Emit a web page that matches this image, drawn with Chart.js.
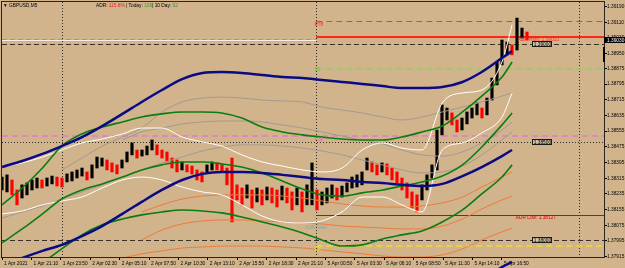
<!DOCTYPE html>
<html>
<head>
<meta charset="utf-8">
<script src="https://cdn.jsdelivr.net/npm/chart.js@4.4.1/dist/chart.umd.min.js"></script>
<style>
  html, body { margin: 0; padding: 0; background: #d2b48c; }
  canvas { display: block; }
</style>
</head>
<body>
<canvas id="chart" width="625" height="268"></canvas>
<script>
// GBPUSD M5, 1-5 Apr 2021. x = M5 bar number from the left edge, y = price
const timeBars = [0, 32, 64, 96, 128, 160, 192, 224, 256, 288, 320, 352, 384, 416, 448, 480, 512, 544];
const timeLabels = ["1 Apr 2021", "1 Apr 21:10", "1 Apr 23:50", "2 Apr 02:30", "2 Apr 05:10", "2 Apr 07:50",
  "2 Apr 10:30", "2 Apr 13:10", "2 Apr 15:50", "2 Apr 18:30", "2 Apr 21:10", "5 Apr 00:50",
  "5 Apr 03:30", "5 Apr 06:10", "5 Apr 08:50", "5 Apr 11:30", "5 Apr 14:10", "5 Apr 16:50"];
const priceTicks = [1.39190, 1.39110, 1.39030, 1.38950, 1.38875, 1.38795, 1.38715, 1.38635, 1.38555,
  1.38475, 1.38395, 1.38315, 1.38235, 1.38155, 1.38075, 1.37995, 1.37915];

// price, one high/low sample every ~27 minutes
const CANDLE_STEP = 5.44;
const candleHigh = [1.38321, 1.38332, 1.38306, 1.38255, 1.38281, 1.38291, 1.38306, 1.38316, 1.38306, 1.38316,
  1.38326, 1.38321, 1.38316, 1.38337, 1.38347, 1.38357, 1.38367, 1.38347, 1.38383, 1.38423,
  1.38418, 1.38408, 1.38393, 1.38383, 1.38408, 1.38449, 1.38495, 1.38459, 1.38459, 1.38479,
  1.38510, 1.38485, 1.38459, 1.38449, 1.38418, 1.38408, 1.38398, 1.38383, 1.38377, 1.38357,
  1.38347, 1.38383, 1.38398, 1.38393, 1.38383, 1.38367, 1.38418, 1.38281, 1.38265, 1.38281,
  1.38255, 1.38265, 1.38255, 1.38270, 1.38265, 1.38255, 1.38275, 1.38265, 1.38245, 1.38265,
  1.38245, 1.38281, 1.38393, 1.38255, 1.38245, 1.38265, 1.38281, 1.38265, 1.38275, 1.38291,
  1.38321, 1.38332, 1.38347, 1.38418, 1.38398, 1.38383, 1.38393, 1.38388, 1.38367, 1.38347,
  1.38316, 1.38291, 1.38245, 1.38230, 1.38281, 1.38332, 1.38383, 1.38561, 1.38689, 1.38673,
  1.38648, 1.38612, 1.38622, 1.38653, 1.38673, 1.38699, 1.38673, 1.38724, 1.38826, 1.38908,
  1.39020, 1.39010, 1.38995, 1.39132, 1.39081, 1.39061];
const candleLow = [1.38255, 1.38245, 1.38230, 1.38179, 1.38214, 1.38230, 1.38255, 1.38265, 1.38265, 1.38275,
  1.38286, 1.38275, 1.38270, 1.38296, 1.38301, 1.38316, 1.38326, 1.38306, 1.38316, 1.38367,
  1.38377, 1.38357, 1.38347, 1.38337, 1.38367, 1.38398, 1.38434, 1.38418, 1.38428, 1.38434,
  1.38459, 1.38434, 1.38418, 1.38398, 1.38367, 1.38347, 1.38357, 1.38347, 1.38337, 1.38306,
  1.38296, 1.38347, 1.38357, 1.38357, 1.38347, 1.38281, 1.38092, 1.38204, 1.38179, 1.38214,
  1.38163, 1.38194, 1.38179, 1.38204, 1.38189, 1.38168, 1.38204, 1.38189, 1.38153, 1.38179,
  1.38143, 1.38179, 1.38179, 1.38153, 1.38179, 1.38189, 1.38214, 1.38204, 1.38219, 1.38245,
  1.38265, 1.38270, 1.38281, 1.38357, 1.38347, 1.38332, 1.38347, 1.38332, 1.38306, 1.38291,
  1.38255, 1.38214, 1.38163, 1.38143, 1.38204, 1.38255, 1.38316, 1.38357, 1.38536, 1.38612,
  1.38587, 1.38551, 1.38561, 1.38592, 1.38622, 1.38638, 1.38622, 1.38638, 1.38714, 1.38791,
  1.38893, 1.38944, 1.38944, 1.38969, 1.39030, 1.39020];

// indicator lines, read at these bars
const lineBars = [0, 22, 44, 65, 87, 109, 131, 152, 174, 196, 218, 239, 261, 283, 305, 327, 348, 370, 392, 414, 435, 457, 479, 501, 522, 544, 555];
const navyUpper = [1.38372, 1.38403, 1.38439, 1.38479, 1.38525, 1.38581, 1.38643, 1.38704, 1.38765, 1.38821, 1.38852, 1.38857, 1.38852, 1.38842, 1.38831, 1.38826, 1.38816, 1.38806, 1.38796, 1.38785, 1.38775, 1.38775, 1.38780, 1.38806, 1.38857, 1.38928, 1.38964];
const navyMiddle = [1.37867, 1.37908, 1.37944, 1.37975, 1.38020, 1.38071, 1.38133, 1.38194, 1.38255, 1.38306, 1.38337, 1.38347, 1.38347, 1.38342, 1.38332, 1.38321, 1.38311, 1.38306, 1.38296, 1.38291, 1.38281, 1.38275, 1.38286, 1.38326, 1.38372, 1.38428, 1.38459];
const navyLower = [null, null, null, null, null, null, null, null, null, null, null, null, null, null, null, null, null, null, null, null, null, null, null, null, 1.37796, 1.37862, 1.37888];
const greenUpper = [1.38179, 1.38265, 1.38367, 1.38479, 1.38541, 1.38576, 1.38602, 1.38627, 1.38643, 1.38653, 1.38653, 1.38648, 1.38622, 1.38576, 1.38551, 1.38536, 1.38525, 1.38515, 1.38510, 1.38510, 1.38525, 1.38551, 1.38581, 1.38653, 1.38734, 1.38831, 1.38908];
const greenMiddle = [1.37985, 1.38056, 1.38133, 1.38209, 1.38255, 1.38286, 1.38321, 1.38357, 1.38383, 1.38398, 1.38398, 1.38388, 1.38372, 1.38342, 1.38301, 1.38260, 1.38230, 1.38224, 1.38240, 1.38255, 1.38275, 1.38296, 1.38326, 1.38383, 1.38474, 1.38587, 1.38648];
const greenLower = [null, 1.37806, 1.37883, 1.37954, 1.38026, 1.38077, 1.38107, 1.38128, 1.38143, 1.38153, 1.38148, 1.38138, 1.38117, 1.38092, 1.38066, 1.38036, 1.38000, 1.37969, 1.37975, 1.38005, 1.38026, 1.38046, 1.38092, 1.38153, 1.38235, 1.38321, 1.38383];
const whiteUpper = [1.38372, 1.38393, 1.38423, 1.38459, 1.38495, 1.38515, 1.38541, 1.38571, 1.38571, 1.38525, 1.38500, 1.38479, 1.38434, 1.38398, 1.38377, 1.38357, 1.38347, 1.38367, 1.38459, 1.38495, 1.38469, 1.38459, 1.38699, 1.38750, 1.38765, 1.38908, 1.39097];
const whiteLower = [1.38133, 1.38148, 1.38179, 1.38199, 1.38219, 1.38265, 1.38306, 1.38321, 1.38306, 1.38270, 1.38245, 1.38230, 1.38179, 1.38122, 1.38092, 1.38087, 1.38097, 1.38143, 1.38219, 1.38219, 1.38179, 1.38143, 1.38459, 1.38495, 1.38546, 1.38627, 1.38750];
const grayUpper = [null, null, null, 1.38357, 1.38418, 1.38479, 1.38525, 1.38571, 1.38653, 1.38704, 1.38724, 1.38729, 1.38724, 1.38714, 1.38709, 1.38704, 1.38678, 1.38663, 1.38648, 1.38627, 1.38612, 1.38627, 1.38653, 1.38678, 1.38704, 1.38734, 1.38750];
const grayMiddle = [null, null, null, null, null, null, 1.38510, 1.38551, 1.38571, 1.38592, 1.38602, 1.38607, 1.38607, 1.38602, 1.38587, 1.38571, 1.38551, 1.38530, 1.38510, 1.38490, 1.38459, 1.38434, 1.38428, 1.38449, 1.38495, 1.38561, 1.38602];
const grayLower = [1.38112, 1.38143, 1.38173, 1.38209, 1.38245, 1.38281, 1.38321, 1.38357, 1.38393, 1.38423, 1.38454, 1.38474, 1.38485, 1.38485, 1.38479, 1.38469, 1.38454, 1.38434, 1.38408, 1.38383, 1.38357, 1.38342, 1.38347, 1.38377, 1.38434, 1.38510, 1.38551];
const orangeUpper = [null, null, null, null, null, null, null, 1.38143, 1.38179, 1.38209, 1.38224, 1.38230, 1.38230, 1.38230, 1.38224, 1.38214, 1.38199, 1.38184, 1.38173, 1.38168, 1.38168, 1.38173, 1.38189, 1.38219, 1.38270, 1.38321, 1.38347];
const orangeMiddle = [null, null, null, null, null, null, null, 1.38000, 1.38051, 1.38082, 1.38097, 1.38102, 1.38102, 1.38097, 1.38092, 1.38087, 1.38082, 1.38071, 1.38066, 1.38061, 1.38056, 1.38056, 1.38071, 1.38107, 1.38158, 1.38204, 1.38224];
const orangeLower = [null, null, null, null, 1.37867, 1.37888, 1.37908, 1.37929, 1.37944, 1.37959, 1.37964, 1.37969, 1.37969, 1.37969, 1.37964, 1.37959, 1.37949, 1.37939, 1.37929, 1.37918, 1.37913, 1.37913, 1.37924, 1.37954, 1.38000, 1.38041, 1.38061];

// horizontal levels: price, first bar, last bar
const levelPrice = [1.39117, 1.39033, 1.39026, 1.39018, 1.39000, 1.38872, 1.38530, 1.38500, 1.38128, 1.38000, 1.37969];
const levelFrom = [342, 342, 0, 0, 0, 342, 0, 0, 342, 0, 342];
const levelTo = [655, 655, 342, 342, 655, 655, 655, 655, 655, 655, 655];
const dayBreaks = [65, 342, 628];

const tagText = ["R78", "50", "R38", "ADR Start", "EP", "ADR High: 1.39033", "ADR Low: 1.38127"];
const tagBar = [340, 340, 340, 330, 340, 561, 559];
const tagPrice = [1.39099, 1.38867, 1.38513, 1.38061, 1.37952, 1.39020, 1.38112];
const roundPrices = [1.39000, 1.38500, 1.38000];
const ROUND_BAR = 588;
const bidPrice = 1.39030;

const FONT = "'Liberation Sans', Arial, sans-serif";

const levelStyle = [
  { c: "#ff3b1f", w: 1, d: [6, 4] },
  { c: "#ff2418", w: 2, d: [] },
  { c: "#4fd13a", w: 1, d: [5, 3] },
  { c: "#f6efe2", w: 1, d: [] },
  { c: "#3a3026", w: 1, d: [5, 3] },
  { c: "#8fd060", w: 1.5, d: [6, 4] },
  { c: "#e27ad0", w: 1.5, d: [6, 4] },
  { c: "#2e2a24", w: 1, d: [1, 2] },
  { c: "#e00000", w: 1, d: [] },
  { c: "#3a3026", w: 1, d: [5, 3] },
  { c: "#f0dc1e", w: 1.5, d: [6, 4] }
];
const tagColor = ["#ff2a1a", "#6cc040", "#e060c8", "#8aa3a8", "#f0dc1e", "#ff2a1a", "#e00000"];

const toPoints = (arr) => arr.map((v, i) => (v == null ? null : { x: lineBars[i], y: v })).filter(Boolean);

function lineSet(data, color, width, extra) {
  return Object.assign({
    type: "line",
    data: toPoints(data),
    borderColor: color,
    borderWidth: width,
    pointRadius: 0,
    cubicInterpolationMode: "monotone",
    fill: false,
    order: 0
  }, extra || {});
}

const candles = candleHigh.map((h, i) => ({ x: i * CANDLE_STEP, y: [candleLow[i], h] }));
const candleColors = candleHigh.map((h, i) => {
  if (i === 0) return "#000000";
  const mid = (h + candleLow[i]) / 2;
  const prev = (candleHigh[i - 1] + candleLow[i - 1]) / 2;
  return mid < prev ? "#ff0000" : "#000000";
});

const backdrop = {
  id: "backdrop",
  beforeDraw(chart) {
    const ctx = chart.ctx;
    ctx.save();
    ctx.fillStyle = "#d2b48c";
    ctx.fillRect(0, 0, chart.width, chart.height);
    ctx.restore();
  },
  beforeDatasetsDraw(chart) {
    const { ctx, chartArea: a, scales: { x, y } } = chart;
    ctx.save();
    ctx.beginPath();
    ctx.rect(a.left, a.top, a.right - a.left, a.bottom - a.top);
    ctx.clip();
    // day separators
    ctx.strokeStyle = "#2e2a24";
    ctx.lineWidth = 1;
    ctx.setLineDash([1, 2]);
    dayBreaks.forEach((b) => {
      const px = Math.round(x.getPixelForValue(b)) + 0.5;
      ctx.beginPath();
      ctx.moveTo(px, a.top);
      ctx.lineTo(px, a.bottom);
      ctx.stroke();
    });
    levelPrice.forEach((p, i) => {
      const s = levelStyle[i];
      const py = Math.round(y.getPixelForValue(p)) + (s.w === 1 ? 0.5 : 0);
      ctx.strokeStyle = s.c;
      ctx.lineWidth = s.w;
      ctx.setLineDash(s.d);
      ctx.beginPath();
      ctx.moveTo(x.getPixelForValue(levelFrom[i]), py);
      ctx.lineTo(x.getPixelForValue(levelTo[i]), py);
      ctx.stroke();
    });
    ctx.restore();
  },
  afterDatasetsDraw(chart) {
    const { ctx, scales: { x, y } } = chart;
    ctx.save();
    ctx.font = "4.8px " + FONT;
    ctx.textBaseline = "middle";
    ctx.textAlign = "left";
    tagText.forEach((t, i) => {
      ctx.fillStyle = tagColor[i];
      ctx.fillText(t, x.getPixelForValue(tagBar[i]), y.getPixelForValue(tagPrice[i]));
    });
    // round number boxes
    ctx.textAlign = "center";
    roundPrices.forEach((p) => {
      const cx = x.getPixelForValue(ROUND_BAR);
      const cy = Math.round(y.getPixelForValue(p));
      const label = p.toFixed(5);
      const w = ctx.measureText(label).width + 3;
      ctx.fillStyle = "#cbbfa6";
      ctx.fillRect(Math.round(cx - w / 2), cy - 3, Math.round(w), 6);
      ctx.strokeStyle = "#1e1a14";
      ctx.lineWidth = 1;
      ctx.setLineDash([]);
      ctx.strokeRect(Math.round(cx - w / 2) + 0.5, cy - 2.5, Math.round(w) - 1, 5);
      ctx.fillStyle = "#000000";
      ctx.fillText(label, cx, cy + 0.3);
    });
    ctx.restore();
  },
  afterDraw(chart) {
    const { ctx, chartArea: a, scales: { y } } = chart;
    ctx.save();
    ctx.strokeStyle = "#2a2520";
    ctx.lineWidth = 1;
    ctx.strokeRect(a.left - 0.5, a.top - 0.5, a.right - a.left + 1, a.bottom - a.top + 1);
    // bid marker on the price axis
    const by = y.getPixelForValue(bidPrice) + 2;
    ctx.fillStyle = "#000000";
    ctx.fillRect(a.right, Math.round(by - 3), chart.width - a.right, 6);
    ctx.fillRect(a.right - 1, Math.round(y.getPixelForValue(1.38984)), 2, 15);
    ctx.font = "4.8px " + FONT;
    ctx.textBaseline = "middle";
    ctx.textAlign = "left";
    ctx.fillStyle = "#ffffff";
    ctx.fillText(bidPrice.toFixed(5), a.right + 3, Math.round(by) + 0.3);
    // header
    ctx.fillStyle = "#000000";
    ctx.fillText("\u25BC GBPUSD,M5", 3, 5.5);
    const parts = [["ADR: ", "#000000"], ["115.6%", "#e02020"], [" | Today: ", "#000000"], ["106", "#2e9a2e"],
      ["| 10 Day: ", "#000000"], ["92", "#2e9a2e"]];
    let tx = 96;
    parts.forEach(([t, c]) => {
      ctx.fillStyle = c;
      ctx.fillText(t, tx, 5.5);
      tx += ctx.measureText(t).width;
    });
    ctx.restore();
  }
};

new Chart(document.getElementById("chart"), {
  type: "bar",
  data: {
    datasets: [
      lineSet(navyUpper, "#0a0a84", 2.5),
      lineSet(navyMiddle, "#0a0a84", 2.5),
      lineSet(navyLower, "#0a0a84", 2.5, { clip: { left: 0, top: 0, right: 0, bottom: 12 } }),
      lineSet(greenUpper, "#0a7d12", 1.6),
      lineSet(greenMiddle, "#0a7d12", 1.6),
      lineSet(greenLower, "#0a7d12", 1.6),
      lineSet(whiteUpper, "#ffffff", 1),
      lineSet(whiteLower, "#ffffff", 1),
      lineSet(grayUpper, "#a19a92", 1),
      lineSet(grayMiddle, "#a19a92", 1),
      lineSet(grayLower, "#a19a92", 1),
      lineSet(orangeUpper, "#ef7a3c", 1),
      lineSet(orangeMiddle, "#ef7a3c", 1),
      lineSet(orangeLower, "#ef7a3c", 1),
      {
        type: "bar",
        data: candles,
        backgroundColor: candleColors,
        borderWidth: 0,
        barThickness: 2.5,
        grouped: false,
        order: 1
      }
    ]
  },
  options: {
    responsive: false,
    animation: false,
    devicePixelRatio: 1,
    events: [],
    layout: { padding: { left: 2, top: 2, right: 0, bottom: 0 } },
    plugins: { legend: { display: false }, tooltip: { enabled: false } },
    scales: {
      x: {
        type: "linear",
        min: 0,
        max: 655,
        offset: false,
        afterBuildTicks: (s) => { s.ticks = timeBars.map((v) => ({ value: v })); },
        afterFit: (s) => { s.height = 11; s.paddingLeft = 0; s.paddingRight = 0; },
        ticks: {
          autoSkip: false,
          maxRotation: 0,
          align: "start",
          labelOffset: 2,
          padding: 1,
          color: "#000000",
          font: { size: 4.8, family: FONT },
          callback: (v, i) => timeLabels[i]
        },
        grid: { drawOnChartArea: false, tickLength: 3, color: "#000000", offset: false },
        border: { color: "#2a2520" }
      },
      y: {
        position: "right",
        min: 1.37913,
        max: 1.39214,
        afterBuildTicks: (s) => { s.ticks = priceTicks.map((v) => ({ value: v })); },
        afterFit: (s) => { s.width = 21; s.paddingTop = 0; s.paddingBottom = 0; },
        ticks: {
          autoSkip: false,
          padding: 0,
          color: "#000000",
          font: { size: 4.8, family: FONT },
          callback: (v) => v.toFixed(5)
        },
        grid: { drawOnChartArea: false, tickLength: 3, color: "#000000" },
        border: { color: "#2a2520" }
      }
    }
  },
  plugins: [backdrop]
});
</script>
</body>
</html>
